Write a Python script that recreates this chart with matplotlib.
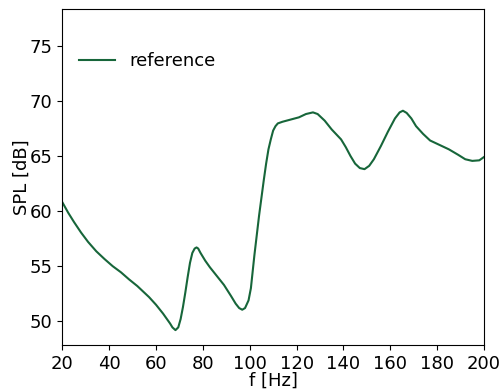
import matplotlib
matplotlib.use("Agg")
import matplotlib.pyplot as plt

freq_hz = [20, 22.5, 25, 28, 31, 34.5, 38, 41.5, 45, 48.5, 52, 55, 57, 60, 63, 66, 67,
           68.3, 69.5, 70.5, 71.5, 72.5, 73.5, 74.5, 75.5, 76.5, 77.3, 78, 79, 81, 83,
           86, 89, 92, 94, 95.5, 96.8, 98, 99.5, 100.5, 102, 103, 104, 105, 106, 107,
           108, 109, 110, 111, 112, 114, 117.5, 121, 124, 127, 129, 132, 135, 139, 141,
           143, 145, 147, 149, 151, 153, 156, 159, 162, 164, 165.4, 167, 169, 171, 174,
           177, 181, 185, 189, 192, 195, 198, 200]
spl_db = [60.8, 59.85, 59.0, 58.05, 57.2, 56.35, 55.65, 55.0, 54.45, 53.8, 53.2, 52.6,
          52.2, 51.5, 50.7, 49.8, 49.45, 49.2, 49.45, 50.2, 51.3, 52.6, 54.0, 55.3,
          56.2, 56.6, 56.7, 56.6, 56.2, 55.5, 54.9, 54.1, 53.3, 52.3, 51.6, 51.2,
          51.05, 51.2, 51.9, 53.0, 56.0, 57.8, 59.6, 61.2, 62.8, 64.3, 65.6, 66.5,
          67.3, 67.7, 67.95, 68.1, 68.3, 68.5, 68.8, 68.95, 68.8, 68.2, 67.4, 66.5,
          65.8, 65.0, 64.3, 63.9, 63.8, 64.1, 64.7, 65.9, 67.2, 68.4, 68.95, 69.1,
          68.9, 68.4, 67.7, 67.0, 66.4, 66.0, 65.6, 65.1, 64.7, 64.55, 64.6, 64.9]

FS = 12.96
fig = plt.figure(figsize=(5.01, 3.89), dpi=100)
ax = fig.add_axes([0.1244, 0.1131, 0.8416, 0.8630])
ax.plot(freq_hz, spl_db, color="#17663a", linewidth=1.5, label="reference")
ax.set_xlim(20, 200)
ax.set_ylim(47.85, 78.3)
ax.set_xticks([20, 40, 60, 80, 100, 120, 140, 160, 180, 200])
ax.set_yticks([50, 55, 60, 65, 70, 75])
ax.tick_params(labelsize=FS)
ax.set_xlabel("f [Hz]", fontsize=FS, labelpad=-1)
ax.set_ylabel("SPL [dB]", fontsize=FS, labelpad=-0.5)
ax.legend(loc="upper left", frameon=False, fontsize=FS, bbox_to_anchor=(0.0, 0.92))
fig.savefig("out.png", dpi=100)
